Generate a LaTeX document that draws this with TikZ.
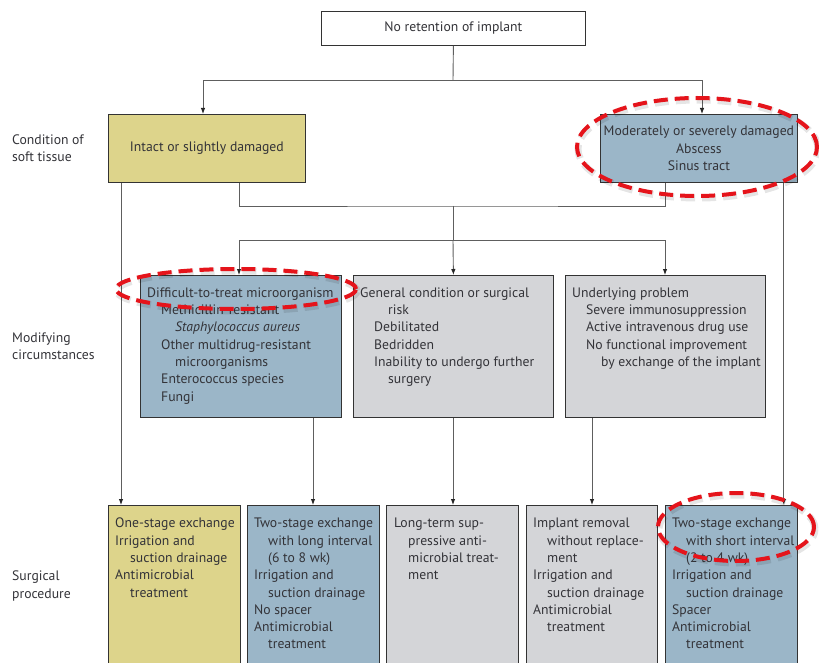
\documentclass[tikz,border=0pt]{standalone}
\usepackage{fontspec}
\setmainfont{PT Sans}
\usetikzlibrary{arrows.meta}
\definecolor{ylw}{HTML}{DDD48B}
\definecolor{blu}{HTML}{9BB6C8}
\definecolor{gry}{HTML}{D4D5D8}
\definecolor{txt}{HTML}{333338}
\definecolor{lin}{HTML}{5E5E5E}
\definecolor{rd}{HTML}{E5141B}
\begin{document}
\begin{tikzpicture}[x=1pt,y=-1pt,
  box/.style={draw=black!80, line width=0.8pt, inner sep=0pt, anchor=north west},
  txtn/.style={inner sep=0pt, text=txt, font=\fontsize{13.7}{17.3}\selectfont},
  lefttxt/.style={txtn, align=left, anchor=north west},
  line/.style={draw=lin, line width=0.9pt},
  arr/.style={line, -{Latex[length=6pt,width=4.5pt,color=black!85]}},
  ring/.style={draw=rd, line width=4pt, dash pattern=on 14pt off 7pt},
  ringsh/.style={draw=black, opacity=0.1, line width=7pt, dash pattern=on 14pt off 7pt}]
\useasboundingbox (0,0) rectangle (819,663);
\clip (0,0) rectangle (819,663);
% top
\node[box, fill=white, minimum width=264pt, minimum height=34pt] (top) at (321,11) {};
\node[txtn] (toptxt) at (top.center) {No retention of implant};
% soft tissue row
\node[box, fill=ylw, minimum width=197pt, minimum height=68pt] (soft1) at (108,114) {};
\node[txtn] (soft1txt) at (soft1.center) {Intact or slightly damaged};
\node[box, fill=blu, minimum width=197pt, minimum height=68pt] (soft2) at (600,114) {};
\node[txtn, align=center] (soft2txt) at (soft2.center) {Moderately or severely damaged\\Abscess\\Sinus tract};
% modifying row
\node[box, fill=blu, minimum width=201pt, minimum height=142pt] (mod1) at (140,275) {};
\node[lefttxt] (mod1txt) at (147,285) {\strut Difficult-to-treat microorganism\\
\hspace*{14pt}Methicillin-resistant\\
\hspace*{28pt}\textit{Staphylococcus aureus}\\
\hspace*{14pt}Other multidrug-resistant\\
\hspace*{28pt}microorganisms\\
\hspace*{14pt}Enterococcus species\\
\hspace*{14pt}Fungi};
\node[box, fill=gry, minimum width=200pt, minimum height=142pt] (mod2) at (353,275) {};
\node[lefttxt] (mod2txt) at (360,285) {\strut General condition or surgical\\
\hspace*{28pt}risk\\
\hspace*{14pt}Debilitated\\
\hspace*{14pt}Bedridden\\
\hspace*{14pt}Inability to undergo further\\
\hspace*{28pt}surgery};
\node[box, fill=gry, minimum width=200pt, minimum height=142pt] (mod3) at (565,275) {};
\node[lefttxt] (mod3txt) at (572,285) {\strut Underlying problem\\
\hspace*{14pt}Severe immunosuppression\\
\hspace*{14pt}Active intravenous drug use\\
\hspace*{14pt}No functional improvement\\
\hspace*{29pt}by exchange of the implant};
% procedure row
\node[box, fill=ylw, minimum width=132pt, minimum height=170pt] (proc1) at (108,505) {};
\node[lefttxt] (proc1txt) at (115,515.5) {\strut One-stage exchange\\
Irrigation and\\
\hspace*{15pt}suction drainage\\
Antimicrobial\\
\hspace*{15pt}treatment};
\node[box, fill=blu, minimum width=132pt, minimum height=170pt] (proc2) at (247,505) {};
\node[lefttxt] (proc2txt) at (254,515.5) {\strut Two-stage exchange\\
\hspace*{14pt}with long interval\\
\hspace*{14pt}(6 to 8 wk)\\
Irrigation and\\
\hspace*{14pt}suction drainage\\
No spacer\\
Antimicrobial\\
\hspace*{14pt}treatment};
\node[box, fill=gry, minimum width=132pt, minimum height=170pt] (proc3) at (386,505) {};
\node[lefttxt] (proc3txt) at (394,515.5) {\strut Long-term sup-\\
\hspace*{14pt}pressive anti-\\
\hspace*{14pt}microbial treat-\\
\hspace*{14pt}ment};
\node[box, fill=gry, minimum width=131pt, minimum height=170pt] (proc4) at (526,505) {};
\node[lefttxt] (proc4txt) at (533,515.5) {\strut Implant removal\\
\hspace*{14pt}without replace-\\
\hspace*{14pt}ment\\
Irrigation and\\
\hspace*{14pt}suction drainage\\
Antimicrobial\\
\hspace*{14pt}treatment};
\node[box, fill=blu, minimum width=132pt, minimum height=170pt] (proc5) at (665,505) {};
\node[lefttxt] (proc5txt) at (672,515.5) {\strut Two-stage exchange\\
\hspace*{14pt}with short interval\\
\hspace*{14pt}(2 to 4 wk)\\
Irrigation and\\
\hspace*{14pt}suction drainage\\
Spacer\\
Antimicrobial\\
\hspace*{14pt}treatment};
% left labels
\node[lefttxt, anchor=west] (lab1) at (12,148) {Condition of\\soft tissue};
\node[lefttxt, anchor=west] (lab2) at (12,346) {Modifying\\circumstances};
\node[lefttxt, anchor=west] (lab3) at (12,586) {Surgical\\procedure};
% connectors
\coordinate (j1) at (453,80);
\coordinate (j2) at (453,206);
\coordinate (j3) at (453,240);
\draw[line] (top.south) -- (j1);
\draw[arr] (j1) -| ([xshift=95pt]soft1.north west);
\draw[arr] (j1) -| ([xshift=102pt]soft2.north west);
\draw[line] ([xshift=131pt]soft1.south west) |- (j2) -| ([xshift=65pt]soft2.south west);
\draw[line] (j2) -- (j3);
\draw[arr] (j3) -| ([xshift=99pt]mod1.north west);
\draw[arr] (j3) -- (mod2.north);
\draw[arr] (j3) -| ([xshift=100pt]mod3.north west);
\draw[arr] ([xshift=13pt]soft1.south west) -- ([xshift=13pt]proc1.north west);
\draw[arr] ([xshift=173pt]mod1.south west) -- ([xshift=66pt]proc2.north west);
\draw[arr] ([xshift=100pt]mod2.south west) -- ([xshift=67pt]proc3.north west);
\draw[arr] ([xshift=27pt]mod3.south west) -- ([xshift=66pt]proc4.north west);
\draw[arr] ([xshift=-14pt]soft2.south east) -- ([xshift=-14pt]proc5.north east);
% red highlight rings
\draw[ringsh] (698,149) ellipse [x radius=120pt, y radius=49pt];
\draw[ring] (697,147) ellipse [x radius=120pt, y radius=49pt];
\draw[ringsh] (237,291) ellipse [x radius=120pt, y radius=20pt];
\draw[ring] (236,289) ellipse [x radius=120pt, y radius=20pt];
\draw[ringsh] (737,529) ellipse [x radius=78pt, y radius=34pt];
\draw[ring] (736,527) ellipse [x radius=78pt, y radius=34pt];
\end{tikzpicture}
\end{document}
